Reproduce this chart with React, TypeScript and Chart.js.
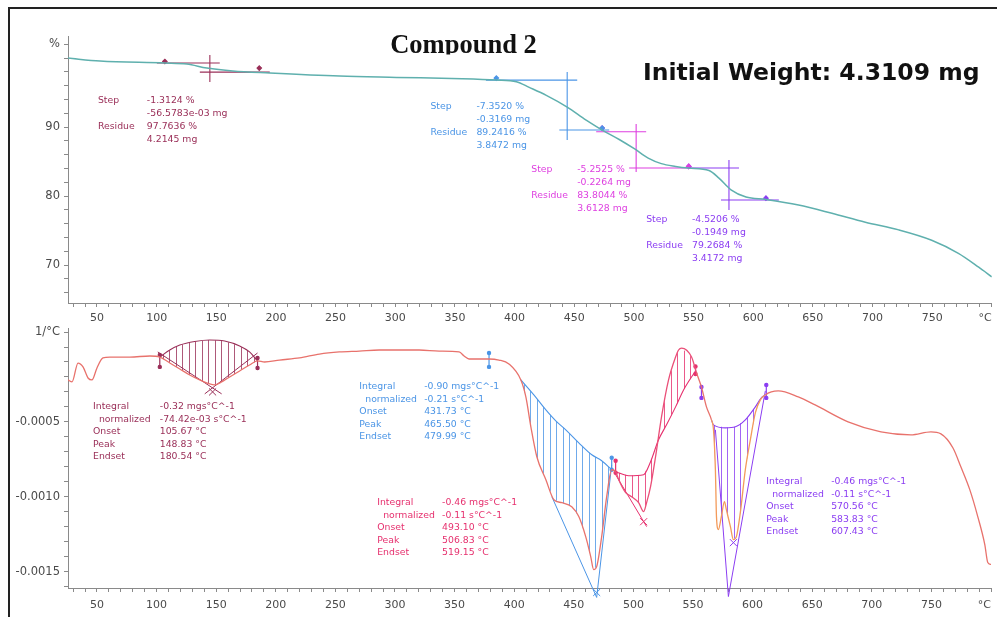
import React, { useEffect, useRef } from 'react';
import { Chart, registerables } from 'chart.js';
Chart.register(...registerables);

// ---------- axes ----------
const X_MIN = 25.7;
const X_MAX = 800;
const xTickValues = [30, 40, 50, 60, 70, 80, 90, 100, 110, 120, 130, 140, 150, 160, 170, 180, 190, 200, 210, 220, 230, 240, 250, 260, 270, 280, 290, 300, 310, 320, 330, 340, 350, 360, 370, 380, 390, 400, 410, 420, 430, 440, 450, 460, 470, 480, 490, 500, 510, 520, 530, 540, 550, 560, 570, 580, 590, 600, 610, 620, 630, 640, 650, 660, 670, 680, 690, 700, 710, 720, 730, 740, 750, 760, 770, 780, 790, 800];
const xMajorLabels = [50, 100, 150, 200, 250, 300, 350, 400, 450, 500, 550, 600, 650, 700, 750];
const xUnitTick = 800;
const xUnitLabel = '°C';

const TGA_MIN = 64.5;
const TGA_MAX = 103.2;
const tgaTickValues = [66, 68, 70, 72, 74, 76, 78, 80, 82, 84, 86, 88, 90, 92, 94, 96, 98, 100, 102];
const tgaMajorLabels = [70, 80, 90];
const tgaUnitTick = 102;
const tgaUnitLabel = '%';

const DTG_MIN = -0.00161;
const DTG_MAX = 0.000127;
const dtgTickValues = [-0.0016, -0.0015, -0.0014, -0.0013, -0.0012, -0.0011, -0.0010, -0.0009, -0.0008, -0.0007, -0.0006, -0.0005, -0.0004, -0.0003, -0.0002, -0.0001, 0, 0.0001];
const dtgMajorLabels = [-0.0005, -0.0010, -0.0015];
const dtgUnitTick = 0.0001;
const dtgUnitLabel = '1/°C';

// ---------- TGA curve ----------
const tgaTemp = [25.7, 52.5, 106.9, 125.3, 142.1, 163.8, 194.8, 253.3, 301, 356, 384.7, 401.5, 412.3, 426.6, 444.1, 460, 473.4, 487.7, 500, 512, 523, 535, 546, 563, 571.3, 581.4, 594, 610.7, 638, 666, 694, 722, 749.6, 772, 789, 800];
const tgaWeight = [100.0, 99.57, 99.28, 99.13, 98.55, 98.12, 97.83, 97.39, 97.2, 97.0, 96.81, 96.57, 95.75, 94.6, 92.9, 91.0, 89.57, 88.2, 86.9, 85.5, 84.7, 84.3, 84.06, 83.7, 82.6, 80.9, 79.86, 79.5, 78.7, 77.5, 76.2, 75.1, 73.6, 71.7, 69.7, 68.3];

// ---------- DTG curve ----------
const dtgTemp = [25.7, 29.1, 34.1, 38.3, 42.5, 45.8, 50.0, 55.0, 60.9, 77.6,
  94.4, 102.7, 111.1, 119.5, 127.8, 136.2, 144.6, 148.7, 154.6, 161.3,
  169.7, 178.0, 184.7, 190.6, 203.1, 219.9, 236.6, 253.3, 270.1, 286.8,
  303.6, 320.3, 337.0, 353.8, 358.0, 362.1, 378.9, 387.2, 395.6, 405.6,
  409.8, 414.0, 419.0, 426.6, 433.3, 440.0, 448.3, 454.2, 460.0, 464.2,
  466.7, 469.2, 473.4, 477.6, 481.8, 485.1, 487.7, 493.5, 498.5, 504.4,
  508.6, 511.1, 514.4, 518.6, 523.6, 529.5, 535.4, 537.9, 540.4, 548.8,
  553.0, 557.1, 561.3, 565.5, 567.2, 568.8, 569.7, 571.3, 573.8, 576.4,
  578.0, 581.4, 583.9, 586.4, 589.7, 593.9, 598.1, 602.3, 606.5, 610.7,
  615.7, 621.5, 638.3, 652.5, 680.1, 707.7, 732.8, 749.6, 758.0, 768.0,
  774.7, 782.2, 788.9, 794.8, 797.3, 800];
const dtgRate = [-2.2e-4, -2.33e-4, -1.07e-4, -1.33e-4, -2.07e-4, -2.2e-4, -1.4e-4, -0.73e-4, -0.67e-4, -0.67e-4,
  -0.6e-4, -0.67e-4, -1.07e-4, -1.47e-4, -1.87e-4, -2.2e-4, -2.47e-4, -2.53e-4, -2.33e-4, -2.0e-4,
  -1.6e-4, -1.2e-4, -0.93e-4, -1.0e-4, -0.87e-4, -0.73e-4, -0.47e-4, -0.33e-4, -0.27e-4, -0.2e-4,
  -0.2e-4, -0.2e-4, -0.27e-4, -0.33e-4, -0.6e-4, -0.8e-4, -0.8e-4, -0.87e-4, -1.13e-4, -2.2e-4,
  -3.33e-4, -5.33e-4, -7.33e-4, -8.87e-4, -10.2e-4, -10.4e-4, -10.67e-4, -11.33e-4, -12.67e-4, -14.0e-4,
  -14.87e-4, -14.67e-4, -12.67e-4, -10.0e-4, -8.2e-4, -8.33e-4, -8.87e-4, -9.73e-4, -10.0e-4, -10.4e-4,
  -11.0e-4, -10.4e-4, -9.33e-4, -7.33e-4, -4.67e-4, -2.2e-4, -0.67e-4, -0.2e-4, -0.07e-4, -0.67e-4,
  -1.73e-4, -2.67e-4, -4.0e-4, -4.87e-4, -5.53e-4, -8.2e-4, -11.33e-4, -12.2e-4, -11.33e-4, -10.33e-4,
  -10.87e-4, -12.0e-4, -12.87e-4, -12.67e-4, -11.07e-4, -8.2e-4, -6.2e-4, -4.4e-4, -3.53e-4, -3.2e-4,
  -3.0e-4, -2.93e-4, -3.33e-4, -3.87e-4, -5.0e-4, -5.67e-4, -5.87e-4, -5.67e-4, -5.8e-4, -6.73e-4,
  -8.0e-4, -9.53e-4, -11.33e-4, -13.2e-4, -14.4e-4, -14.53e-4];

// ---------- TGA step evaluations (upper line, vertical, lower line) ----------
const step1Lines = [[[100.2, 99.28], [152.9, 99.28]], [[144.6, 100.43], [144.6, 96.52]], [[136.2, 97.97], [194.8, 97.97]]];
const step2Lines = [[[376.0, 96.81], [452.5, 96.81]], [[444.1, 97.97], [444.1, 88.12]], [[437.5, 89.57], [479.3, 89.57]]];
const step3Lines = [[[468.4, 89.32], [510.3, 89.32]], [[501.9, 90.43], [501.9, 83.48]], [[496.0, 84.06], [546.2, 84.06]]];
const step4Lines = [[[546.2, 84.06], [588.1, 84.06]], [[579.7, 85.22], [579.7, 77.97]], [[573.0, 79.42], [621.5, 79.42]]];
const step1Marks = [[106.9, 99.5], [186.0, 98.55]];
const step2Marks = [[384.7, 97.1], [473.4, 89.85]];
const step3Marks = [[473.4, 89.85], [546.0, 84.3]];
const step4Marks = [[546.0, 84.3], [610.7, 79.7]];

const step1Text = [['Step', '-1.3124 %'], ['', '-56.5783e-03 mg'], ['Residue', '97.7636 %'], ['', '4.2145 mg']];
const step2Text = [['Step', '-7.3520 %'], ['', '-0.3169 mg'], ['Residue', '89.2416 %'], ['', '3.8472 mg']];
const step3Text = [['Step', '-5.2525 %'], ['', '-0.2264 mg'], ['Residue', '83.8044 %'], ['', '3.6128 mg']];
const step4Text = [['Step', '-4.5206 %'], ['', '-0.1949 mg'], ['Residue', '79.2684 %'], ['', '3.4172 mg']];
// anchors: [label column T, value column T, first row value]
const step1Anchor = [50.8, 91.8, 93.91];
const step2Anchor = [329.5, 368.0, 92.9];
const step3Anchor = [414.0, 452.5, 83.91];
const step4Anchor = [510.3, 548.7, 76.52];

// ---------- DTG peak integrations ----------
const int1BaseT = [102.7, 111.1, 119.5, 132.0, 144.6, 157.1, 169.7, 178.0, 184.7];
const int1BaseV = [-0.67e-4, -0.2e-4, 0.13e-4, 0.37e-4, 0.47e-4, 0.4e-4, 0.07e-4, -0.33e-4, -0.93e-4];
const int2BaseT = [405.6, 416.5, 426.6, 434.9, 443.3, 454.2, 465.1, 473.4, 481.8];
const int2BaseV = [-2.2e-4, -3.2e-4, -4.2e-4, -4.93e-4, -5.53e-4, -6.4e-4, -7.2e-4, -7.6e-4, -8.2e-4];
const int3BaseT = [485.1, 496.0, 508.6, 514.4, 521.1, 527.8, 535.4, 542.1, 552.1];
const int3BaseV = [-8.33e-4, -8.6e-4, -8.53e-4, -7.67e-4, -6.2e-4, -5.2e-4, -4.0e-4, -2.87e-4, -1.6e-4];
const int4BaseT = [565.5, 567.2, 577.2, 585.6, 593.9, 602.3, 607.3, 610.7];
const int4BaseV = [-4.87e-4, -5.2e-4, -5.4e-4, -5.33e-4, -4.87e-4, -4.0e-4, -3.4e-4, -3.2e-4];

const int1Tangents = [[[101.0, -0.33e-4], [154.6, -3.13e-4]], [[184.7, -0.4e-4], [140.4, -3.13e-4]]];
const int2Tangents = [[[431.6, -10.0e-4], [469.2, -16.73e-4]], [[481.8, -7.87e-4], [469.2, -16.73e-4]]];
const int3Tangents = [[[485.1, -8.53e-4], [511.1, -12.0e-4]]];
const int4Tangents = [[[568.8, -5.53e-4], [579.7, -16.67e-4]], [[610.7, -2.93e-4], [579.7, -16.67e-4]]];

const int1Limits = [[[102.7, -0.53e-4], [102.7, -1.33e-4]], [[184.7, -0.73e-4], [184.7, -1.4e-4]]];
const int2Limits = [[[378.9, -0.4e-4], [378.9, -1.33e-4]], [[481.8, -7.4e-4], [481.8, -8.2e-4]]];
const int3Limits = [[[485.1, -7.6e-4], [485.1, -8.4e-4]], [[552.1, -1.3e-4], [552.1, -1.8e-4]]];
const int4Limits = [[[557.1, -2.67e-4], [557.1, -3.4e-4]], [[611.5, -2.53e-4], [611.5, -3.4e-4]]];

const int1Cross = [[147.0, -3.0e-4]];
const int2Cross = [[469.2, -16.4e-4]];
const int3Cross = [[508.6, -11.67e-4]];
const int4Cross = [[583.9, -13.07e-4], [579.7, -16.9e-4]];

const int1Text = [['Integral', '-0.32 mgs°C^-1'], ['  normalized', '-74.42e-03 s°C^-1'], ['Onset', '105.67 °C'], ['Peak', '148.83 °C'], ['Endset', '180.54 °C']];
const int2Text = [['Integral', '-0.90 mgs°C^-1'], ['  normalized', '-0.21 s°C^-1'], ['Onset', '431.73 °C'], ['Peak', '465.50 °C'], ['Endset', '479.99 °C']];
const int3Text = [['Integral', '-0.46 mgs°C^-1'], ['  normalized', '-0.11 s°C^-1'], ['Onset', '493.10 °C'], ['Peak', '506.83 °C'], ['Endset', '519.15 °C']];
const int4Text = [['Integral', '-0.46 mgs°C^-1'], ['  normalized', '-0.11 s°C^-1'], ['Onset', '570.56 °C'], ['Peak', '583.83 °C'], ['Endset', '607.43 °C']];
const int1Anchor = [46.7, 102.7, -4.0e-4];
const int2Anchor = [270.1, 324.5, -2.67e-4];
const int3Anchor = [285.1, 339.5, -10.4e-4];
const int4Anchor = [611.5, 665.9, -9.0e-4];

// ---------- styles ----------
const TEAL = '#5fb0ae';
const SALMON = '#e8726c';
const ORANGE = '#f39a5a';
const MAROON = '#9a2f58';
const BLUE = '#4b95e6';
const PINK = '#e6306e';
const MAGENTA = '#de3fe0';
const PURPLE = '#8b3df2';
const AXIS = '#8a8a8a';
const TICKTXT = '#4a4a4a';
const FONT = 'DejaVu Sans';

const toXY = (pts) => pts.map(([x, y]) => ({ x, y }));
const lineDs = (pts, color, extra = {}) => ({
  type: 'line', data: toXY(pts), borderColor: color, borderWidth: 1.1, pointRadius: 0,
  tension: 0, fill: false, ...extra,
});

const xScale = (labelPad, height) => ({
  type: 'linear', min: X_MIN, max: X_MAX,
  afterBuildTicks: (s) => { s.ticks = xTickValues.map((v) => ({ value: v })); },
  afterFit: (s) => { s.height = height; s.paddingLeft = 0; s.paddingRight = 0; },
  ticks: {
    autoSkip: false, maxRotation: 0, minRotation: 0, align: 'inner', padding: labelPad,
    color: TICKTXT, font: { family: FONT, size: 11 },
    callback: (v) => (v === xUnitTick ? xUnitLabel : xMajorLabels.includes(v) ? String(v) : ''),
  },
  grid: { drawOnChartArea: false, drawTicks: true, tickLength: 4, color: AXIS },
  border: { display: true, color: AXIS, width: 1 },
});

const yScale = (min, max, ticks, cb) => ({
  type: 'linear', min, max,
  afterBuildTicks: (s) => { s.ticks = ticks.map((v) => ({ value: v })); },
  afterFit: (s) => { s.width = 68; s.paddingTop = 0; s.paddingBottom = 0; },
  ticks: { autoSkip: false, padding: 4, color: TICKTXT, font: { family: FONT, size: 11.5 }, callback: cb },
  grid: { drawOnChartArea: false, drawTicks: true, tickLength: 4, color: AXIS },
  border: { display: true, color: AXIS, width: 1 },
});

const textPlugin = (blocks, lineH) => ({
  id: 'textBlocks',
  afterDatasetsDraw(chart) {
    const { ctx, scales } = chart;
    const x = scales.x, y = scales.y;
    ctx.save();
    ctx.font = `9.3px "${FONT}"`;
    ctx.textBaseline = 'middle';
    ctx.textAlign = 'left';
    blocks.forEach((b) => {
      ctx.fillStyle = b.color;
      const lx = x.getPixelForValue(b.anchor[0]);
      const vx = x.getPixelForValue(b.anchor[1]);
      const y0 = y.getPixelForValue(b.anchor[2]);
      b.rows.forEach((r, i) => {
        ctx.fillText(r[0], lx, y0 + i * lineH);
        ctx.fillText(r[1], vx, y0 + i * lineH);
      });
    });
    ctx.restore();
  },
});

const hatchPlugin = (curveT, curveV, regions) => ({
  id: 'hatch',
  beforeDatasetsDraw(chart) {
    const { ctx, chartArea: a, scales } = chart;
    const x = scales.x, y = scales.y;
    const interp = (t) => {
      for (let i = 0; i < curveT.length - 1; i++) {
        if (t >= curveT[i] && t <= curveT[i + 1]) {
          const f = (t - curveT[i]) / (curveT[i + 1] - curveT[i]);
          return curveV[i] + f * (curveV[i + 1] - curveV[i]);
        }
      }
      return curveV[curveV.length - 1];
    };
    regions.forEach((r) => {
      const t0 = r.t[0], t1 = r.t[r.t.length - 1];
      ctx.save();
      ctx.beginPath();
      ctx.moveTo(x.getPixelForValue(t0), y.getPixelForValue(interp(t0)));
      curveT.forEach((t, i) => { if (t > t0 && t < t1) ctx.lineTo(x.getPixelForValue(t), y.getPixelForValue(curveV[i])); });
      ctx.lineTo(x.getPixelForValue(t1), y.getPixelForValue(interp(t1)));
      for (let i = r.t.length - 1; i >= 0; i--) ctx.lineTo(x.getPixelForValue(r.t[i]), y.getPixelForValue(r.v[i]));
      ctx.closePath();
      ctx.clip();
      ctx.strokeStyle = r.color;
      ctx.globalAlpha = 0.8;
      ctx.lineWidth = 1;
      const p0 = x.getPixelForValue(t0), p1 = x.getPixelForValue(t1);
      ctx.beginPath();
      for (let px = p0 + 3; px < p1; px += 6.5) {
        const xx = Math.round(px) + 0.5;
        ctx.moveTo(xx, a.top - 20);
        ctx.lineTo(xx, a.bottom + 20);
      }
      ctx.stroke();
      ctx.restore();
    });
  },
});

const titlePlugin = {
  id: 'titles',
  afterDraw(chart) {
    const { ctx } = chart;
    ctx.save();
    ctx.beginPath();
    ctx.rect(300, 20, 330, 34.5);
    ctx.clip();
    ctx.fillStyle = '#111';
    ctx.font = 'bold 26.5px "Liberation Serif"';
    ctx.textAlign = 'center';
    ctx.textBaseline = 'alphabetic';
    ctx.fillText('Compound 2', 463.5, 53);
    ctx.restore();
    ctx.save();
    ctx.fillStyle = '#111';
    ctx.font = `bold 23.5px "${FONT}"`;
    ctx.textAlign = 'left';
    ctx.textBaseline = 'alphabetic';
    ctx.fillText('Initial Weight: 4.3109 mg', 643, 80);
    ctx.restore();
  },
};

const markDs = (pts, color, style = 'rectRot', r = 2.5, extra = {}) => ({
  type: 'line', data: toXY(pts), showLine: false, pointRadius: r, pointStyle: style,
  pointBackgroundColor: color, pointBorderColor: color, pointBorderWidth: 1.2, ...extra,
});

function topConfig() {
  const datasets = [
    {
      type: 'line', data: tgaTemp.map((t, i) => ({ x: t, y: tgaWeight[i] })), borderColor: TEAL,
      borderWidth: 1.5, pointRadius: 0, cubicInterpolationMode: 'monotone', fill: false,
    },
  ];
  [[step1Lines, MAROON], [step2Lines, BLUE], [step3Lines, MAGENTA], [step4Lines, PURPLE]].forEach(([lines, c]) => {
    lines.forEach((l) => datasets.push(lineDs(l, c)));
  });
  [[step1Marks, MAROON], [step2Marks, BLUE], [step3Marks, MAGENTA], [step4Marks, PURPLE]].forEach(([m, c]) => {
    datasets.push(markDs(m, c, 'rectRot', 2.2));
  });
  return {
    type: 'line',
    data: { datasets },
    options: {
      responsive: false, animation: false, devicePixelRatio: 1,
      layout: { padding: { top: 36, left: 0, right: 3, bottom: 0 } },
      plugins: { legend: { display: false }, tooltip: { enabled: false } },
      scales: {
        x: xScale(5, 19),
        y: yScale(TGA_MIN, TGA_MAX, tgaTickValues, (v) => (v === tgaUnitTick ? tgaUnitLabel : tgaMajorLabels.includes(v) ? String(v) : '')),
      },
    },
    plugins: [
      textPlugin([
        { anchor: step1Anchor, rows: step1Text, color: MAROON },
        { anchor: step2Anchor, rows: step2Text, color: BLUE },
        { anchor: step3Anchor, rows: step3Text, color: MAGENTA },
        { anchor: step4Anchor, rows: step4Text, color: PURPLE },
      ], 13),
      titlePlugin,
    ],
  };
}

function bottomConfig() {
  const segColor = (ctx) => {
    const t = ctx.p0.parsed.x;
    if (t >= 565 && t < 607) return ORANGE;
    if (t >= 485 && t < 553) return '#ea4f78';
    return SALMON;
  };
  const datasets = [
    {
      type: 'line', data: dtgTemp.map((t, i) => ({ x: t, y: dtgRate[i] })), borderColor: SALMON,
      borderWidth: 1.3, pointRadius: 0, cubicInterpolationMode: 'monotone', fill: false,
      segment: { borderColor: segColor },
    },
  ];
  const bases = [[int1BaseT, int1BaseV, MAROON], [int2BaseT, int2BaseV, BLUE], [int3BaseT, int3BaseV, PINK], [int4BaseT, int4BaseV, PURPLE]];
  bases.forEach(([t, v, c]) => datasets.push({
    type: 'line', data: t.map((tt, i) => ({ x: tt, y: v[i] })), borderColor: c, borderWidth: 1.1,
    pointRadius: 0, cubicInterpolationMode: 'monotone', fill: false,
  }));
  [[int1Tangents, MAROON], [int2Tangents, BLUE], [int3Tangents, PINK], [int4Tangents, PURPLE]].forEach(([ls, c]) => {
    ls.forEach((l) => datasets.push(lineDs(l, c, { clip: false, borderWidth: 1 })));
  });
  [[int1Limits, MAROON], [int2Limits, BLUE], [int3Limits, PINK], [int4Limits, PURPLE]].forEach(([ls, c]) => {
    ls.forEach((l) => datasets.push(lineDs(l, c, { pointRadius: 1.6, pointBackgroundColor: c, pointBorderColor: c, borderWidth: 1.2 })));
  });
  [[int1Cross, MAROON], [int2Cross, BLUE], [int3Cross, PINK], [int4Cross, PURPLE]].forEach(([m, c]) => {
    datasets.push(markDs(m, c, 'crossRot', 5, { clip: false, pointBorderWidth: 1 }));
  });
  return {
    type: 'line',
    data: { datasets },
    options: {
      responsive: false, animation: false, devicePixelRatio: 1,
      layout: { padding: { top: 6, left: 0, right: 3, bottom: 0 } },
      plugins: { legend: { display: false }, tooltip: { enabled: false } },
      scales: {
        x: xScale(7, 29),
        y: yScale(DTG_MIN, DTG_MAX, dtgTickValues, (v) => {
          if (Math.abs(v - dtgUnitTick) < 1e-9) return dtgUnitLabel;
          return dtgMajorLabels.some((m) => Math.abs(m - v) < 1e-9) ? v.toFixed(4) : '';
        }),
      },
    },
    plugins: [
      hatchPlugin(dtgTemp, dtgRate, [
        { t: int1BaseT, v: int1BaseV, color: MAROON },
        { t: int2BaseT, v: int2BaseV, color: BLUE },
        { t: int3BaseT, v: int3BaseV, color: PINK },
        { t: int4BaseT, v: int4BaseV, color: PURPLE },
      ]),
      textPlugin([
        { anchor: int1Anchor, rows: int1Text, color: MAROON },
        { anchor: int2Anchor, rows: int2Text, color: BLUE },
        { anchor: int3Anchor, rows: int3Text, color: PINK },
        { anchor: int4Anchor, rows: int4Text, color: PURPLE },
      ], 12.5),
    ],
  };
}

export default function App() {
  const topRef = useRef(null);
  const botRef = useRef(null);
  useEffect(() => {
    const c1 = new Chart(topRef.current, topConfig());
    const c2 = new Chart(botRef.current, bottomConfig());
    return () => { c1.destroy(); c2.destroy(); };
  }, []);
  return (
    <div style={{ position: 'fixed', left: 0, top: 0, width: 997, height: 617, background: '#fff', overflow: 'hidden' }}>
      <div style={{ position: 'absolute', left: 8, top: 7, width: 989, height: 610, borderTop: '2px solid #222', borderLeft: '2px solid #222', boxSizing: 'border-box' }} />
      <canvas ref={topRef} width={997} height={322} style={{ position: 'absolute', left: 0, top: 0, width: 997, height: 322 }} />
      <canvas ref={botRef} width={997} height={295} style={{ position: 'absolute', left: 0, top: 322, width: 997, height: 295 }} />
    </div>
  );
}
